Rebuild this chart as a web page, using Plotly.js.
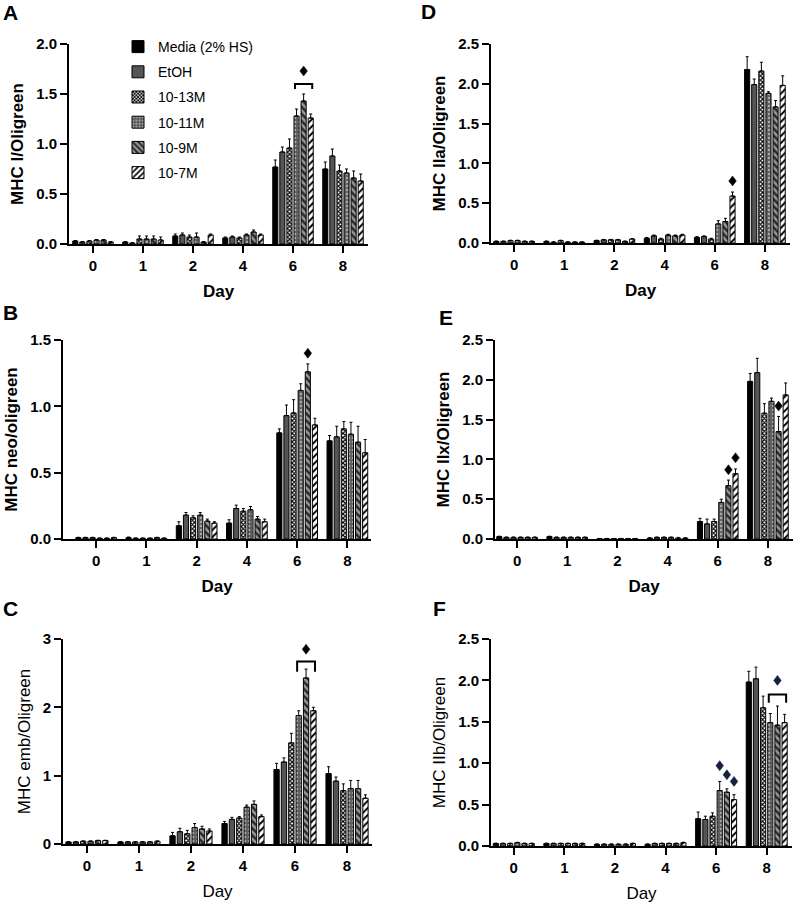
<!DOCTYPE html>
<html>
<head>
<meta charset="utf-8">
<script src="https://cdn.plot.ly/plotly-3.0.1.min.js"></script>
<style>
  body { margin: 0; background: #fff; }
  #chart { width: 796px; height: 903px; }
</style>
</head>
<body>
<div id="chart"></div>
<script>
// days on the x axis
var days = ['0', '1', '2', '4', '6', '8'];
var groups = ['Media (2% HS)', 'EtOH', '10-13M', '10-11M', '10-9M', '10-7M'];

// rows = groups (same order as above), columns = days
var mhcIMean = [
  [0.03, 0.02, 0.08, 0.06, 0.77, 0.75],
  [0.02, 0.01, 0.09, 0.07, 0.92, 0.88],
  [0.03, 0.05, 0.07, 0.06, 0.96, 0.73],
  [0.04, 0.05, 0.07, 0.09, 1.28, 0.71],
  [0.04, 0.05, 0.02, 0.12, 1.43, 0.66],
  [0.02, 0.04, 0.09, 0.09, 1.26, 0.63]
];
var mhcIErr = [
  [0.005, 0.005, 0.02, 0.01, 0.07, 0.07],
  [0.005, 0.005, 0.02, 0.01, 0.05, 0.07],
  [0.005, 0.03, 0.02, 0.01, 0.09, 0.06],
  [0.005, 0.03, 0.04, 0.01, 0.07, 0.04],
  [0.005, 0.03, 0.005, 0.02, 0.07, 0.07],
  [0.005, 0.03, 0.01, 0.01, 0.04, 0.07]
];

var mhcNeoMean = [
  [0.01, 0.01, 0.10, 0.12, 0.80, 0.74],
  [0.01, 0.005, 0.18, 0.23, 0.93, 0.77],
  [0.01, 0.005, 0.16, 0.21, 0.95, 0.83],
  [0.005, 0.005, 0.18, 0.22, 1.12, 0.79],
  [0.005, 0.01, 0.135, 0.15, 1.26, 0.73],
  [0.01, 0.005, 0.12, 0.13, 0.86, 0.65]
];
var mhcNeoErr = [
  [0.003, 0.005, 0.03, 0.025, 0.03, 0.04],
  [0.003, 0.003, 0.02, 0.025, 0.08, 0.08],
  [0.003, 0.003, 0.015, 0.02, 0.10, 0.055],
  [0.003, 0.003, 0.02, 0.025, 0.05, 0.09],
  [0.003, 0.003, 0.015, 0.02, 0.06, 0.12],
  [0.003, 0.003, 0.01, 0.02, 0.05, 0.10]
];

var mhcEmbMean = [
  [0.03, 0.03, 0.12, 0.30, 1.09, 1.03],
  [0.03, 0.03, 0.18, 0.36, 1.20, 0.92],
  [0.04, 0.03, 0.15, 0.38, 1.48, 0.78],
  [0.04, 0.03, 0.24, 0.54, 1.88, 0.81],
  [0.05, 0.03, 0.22, 0.58, 2.43, 0.81],
  [0.05, 0.04, 0.19, 0.40, 1.95, 0.67]
];
var mhcEmbErr = [
  [0.005, 0.005, 0.05, 0.03, 0.09, 0.10],
  [0.005, 0.005, 0.05, 0.03, 0.06, 0.06],
  [0.005, 0.005, 0.05, 0.02, 0.14, 0.10],
  [0.005, 0.005, 0.06, 0.03, 0.07, 0.12],
  [0.005, 0.005, 0.04, 0.05, 0.13, 0.12],
  [0.005, 0.005, 0.03, 0.025, 0.05, 0.05]
];

var mhcIIaMean = [
  [0.02, 0.02, 0.03, 0.06, 0.07, 2.18],
  [0.02, 0.01, 0.04, 0.09, 0.08, 1.99],
  [0.03, 0.03, 0.04, 0.05, 0.05, 2.16],
  [0.03, 0.01, 0.04, 0.10, 0.24, 1.88],
  [0.02, 0.01, 0.02, 0.09, 0.27, 1.71],
  [0.02, 0.01, 0.05, 0.10, 0.59, 1.98]
];
var mhcIIaErr = [
  [0.005, 0.005, 0.005, 0.01, 0.01, 0.16],
  [0.005, 0.005, 0.005, 0.01, 0.01, 0.07],
  [0.005, 0.005, 0.005, 0.01, 0.01, 0.11],
  [0.005, 0.005, 0.005, 0.01, 0.04, 0.02],
  [0.005, 0.005, 0.005, 0.01, 0.04, 0.08],
  [0.005, 0.005, 0.005, 0.01, 0.05, 0.12]
];

var mhcIIxMean = [
  [0.03, 0.03, 0.005, 0.01, 0.22, 1.98],
  [0.02, 0.02, 0.005, 0.02, 0.19, 2.09],
  [0.02, 0.02, 0.005, 0.02, 0.22, 1.58],
  [0.02, 0.02, 0.005, 0.02, 0.46, 1.73],
  [0.02, 0.02, 0.005, 0.01, 0.67, 1.35],
  [0.02, 0.02, 0.005, 0.01, 0.82, 1.81]
];
var mhcIIxErr = [
  [0.005, 0.005, 0.002, 0.005, 0.04, 0.10],
  [0.005, 0.005, 0.002, 0.005, 0.06, 0.18],
  [0.005, 0.005, 0.002, 0.005, 0.03, 0.12],
  [0.005, 0.005, 0.002, 0.005, 0.04, 0.04],
  [0.005, 0.005, 0.002, 0.01, 0.07, 0.19],
  [0.005, 0.005, 0.002, 0.005, 0.06, 0.15]
];

var mhcIIbMean = [
  [0.03, 0.03, 0.02, 0.02, 0.33, 1.98],
  [0.03, 0.03, 0.02, 0.03, 0.32, 2.02],
  [0.03, 0.03, 0.02, 0.03, 0.36, 1.67],
  [0.04, 0.03, 0.02, 0.03, 0.67, 1.49],
  [0.03, 0.03, 0.02, 0.03, 0.65, 1.46],
  [0.03, 0.03, 0.03, 0.04, 0.56, 1.49]
];
var mhcIIbErr = [
  [0.005, 0.005, 0.005, 0.005, 0.08, 0.13],
  [0.005, 0.005, 0.005, 0.005, 0.04, 0.14],
  [0.005, 0.005, 0.005, 0.005, 0.04, 0.14],
  [0.005, 0.005, 0.005, 0.005, 0.11, 0.11],
  [0.005, 0.005, 0.005, 0.005, 0.04, 0.23],
  [0.005, 0.005, 0.005, 0.005, 0.06, 0.10]
];

// significance marks: [dayIndex, groupIndex, y]
var diamondsA = [[4, 4, 1.73]];
var diamondsB = [[4, 4, 1.40]];
var diamondsC = [[4, 4, 2.85]];
var diamondsD = [[4, 5, 0.78]];
var diamondsE = [[4, 4, 0.87], [4, 5, 1.02], [5, 4, 1.67]];
var diamondsF = [[4, 3, 0.97], [4, 4, 0.86], [4, 5, 0.78], [5, 4, 2.00]];
// brackets: [dayIndex, fromGroup, toGroup, y, tipY]
var bracketsA = [[4, 3, 5, 1.60, 1.55]];
var bracketsC = [[4, 3, 5, 2.67, 2.52]];
var bracketsF = [[5, 3, 5, 1.83, 1.73]];

var FONT = 'Liberation Sans, Arial, Helvetica, sans-serif';
var BARGAP = 0.15;

var fills = [
  { color: '#000000' },
  { color: '#555555' },
  { color: '#ffffff', pattern: { shape: 'x', fgcolor: '#000', bgcolor: '#fff', size: 3, solidity: 0.6 } },
  { color: '#5e5e5e', pattern: { shape: '.', fgcolor: '#a8a8a8', bgcolor: '#5e5e5e', size: 4, solidity: 0.3 } },
  { color: '#888888', pattern: { shape: '\\', fgcolor: '#2a2a2a', bgcolor: '#9a9a9a', size: 5, solidity: 0.5 } },
  { color: '#ffffff', pattern: { shape: '/', fgcolor: '#000', bgcolor: '#fff', size: 5, solidity: 0.4 } }
];

var panels = [
  { letter: 'A', mean: mhcIMean, err: mhcIErr, ytitle: 'MHC I/Oligreen', yr: [0, 2], dt: 0.5, fmt: '.1f',
    dom: [69, 368, 44, 244], xr: [-0.48, 5.5], lp: [10, 13], dia: diamondsA, br: bracketsA, bold: true, dcol: '#000' },
  { letter: 'B', mean: mhcNeoMean, err: mhcNeoErr, ytitle: 'MHC neo/oligreen', yr: [0, 1.5], dt: 0.5, fmt: '.1f',
    dom: [63, 371, 340, 539], xr: [-0.66, 5.47], lp: [10, 312], dia: diamondsB, br: [], bold: true, dcol: '#000' },
  { letter: 'C', mean: mhcEmbMean, err: mhcEmbErr, ytitle: 'MHC emb/Oligreen', yr: [0, 3], dt: 1, fmt: 'd',
    dom: [63, 372, 639, 844], xr: [-0.46, 5.48], lp: [10, 608], dia: diamondsC, br: bracketsC, bold: false, dcol: '#000' },
  { letter: 'D', mean: mhcIIaMean, err: mhcIIaErr, ytitle: 'MHC IIa/Oligreen', yr: [0, 2.5], dt: 0.5, fmt: '.1f',
    dom: [491, 790, 44, 243], xr: [-0.46, 5.5], lp: [428, 11], dia: diamondsD, br: [], bold: true, dcol: '#000' },
  { letter: 'E', mean: mhcIIxMean, err: mhcIIxErr, ytitle: 'MHC IIx/Oligreen', yr: [0, 2.5], dt: 0.5, fmt: '.1f',
    dom: [495, 793, 340, 539], xr: [-0.44, 5.5], lp: [446, 317], dia: diamondsE, br: [], bold: true, dcol: '#000' },
  { letter: 'F', mean: mhcIIbMean, err: mhcIIbErr, ytitle: 'MHC IIb/Oligreen', yr: [0, 2.5], dt: 0.5, fmt: '.1f',
    dom: [491, 792, 639, 846], xr: [-0.45, 5.5], lp: [439, 608], dia: diamondsF, br: bracketsF, bold: false, dcol: '#14213d' }
];

var W = 796, H = 903;

// centre of a bar inside its day group, in category units
function barX(day, g) {
  var slot = (1 - BARGAP) / groups.length;
  return day - (1 - BARGAP) / 2 + slot * (g + 0.5);
}

var data = [];
var layout = {
  width: W, height: H,
  margin: { l: 0, r: 0, t: 0, b: 0 },
  paper_bgcolor: '#fff', plot_bgcolor: '#fff',
  barmode: 'group', bargap: BARGAP, bargroupgap: 0.28,
  font: { family: FONT, color: '#000' },
  showlegend: true,
  legend: {
    x: 118 / W, y: 1 - 31 / H, xanchor: 'left', yanchor: 'top',
    font: { family: FONT, size: 14, color: '#000' },
    bgcolor: 'rgba(0,0,0,0)', tracegroupgap: 4
  },
  annotations: [],
  shapes: []
};

panels.forEach(function (p, k) {
  var n = k === 0 ? '' : String(k + 1);
  var xa = 'x' + n, ya = 'y' + n;
  groups.forEach(function (name, g) {
    var f = fills[g];
    var marker = { color: f.color, line: { color: '#000', width: 1 } };
    if (f.pattern) marker.pattern = f.pattern;
    data.push({
      type: 'bar', name: name, x: days, y: p.mean[g],
      xaxis: xa, yaxis: ya, marker: marker,
      legendgroup: name, showlegend: k === 0,
      error_y: { type: 'data', symmetric: false, array: p.err[g],
                 arrayminus: p.err[g].map(function () { return 0; }),
                 color: '#000', thickness: 1, width: 1.5 }
    });
  });

  var tf = { family: FONT, size: 17, color: '#000', weight: p.bold ? 'bold' : 'normal' };
  layout['xaxis' + n] = {
    domain: [p.dom[0] / W, p.dom[1] / W], anchor: ya, type: 'category',
    range: p.xr, showline: true, linecolor: '#000', linewidth: 2,
    ticks: 'outside', ticklen: 7, tickwidth: 2, tickcolor: '#000',
    showgrid: false, zeroline: false, fixedrange: true,
    tickfont: { family: FONT, size: 15, color: '#000', weight: 'bold' },
    title: { text: 'Day', font: tf, standoff: 12 }
  };
  layout['yaxis' + n] = {
    domain: [1 - p.dom[3] / H, 1 - p.dom[2] / H], anchor: xa,
    range: p.yr, dtick: p.dt, tick0: 0, tickformat: p.fmt,
    showline: true, linecolor: '#000', linewidth: 2,
    ticks: 'outside', ticklen: 7, tickwidth: 2, tickcolor: '#000',
    showgrid: false, zeroline: false, fixedrange: true,
    tickfont: { family: FONT, size: 15, color: '#000', weight: 'bold' },
    title: { text: p.ytitle, font: tf, standoff: 8 }
  };

  layout.annotations.push({
    xref: 'paper', yref: 'paper', x: p.lp[0] / W, y: 1 - p.lp[1] / H,
    xanchor: 'center', yanchor: 'middle', showarrow: false, text: p.letter,
    font: { family: FONT, size: 21, color: '#000', weight: 'bold' }
  });

  // diamond marks drawn as small pixel-sized shapes anchored to the data
  p.dia.forEach(function (d) {
    layout.shapes.push({
      type: 'path', xref: xa, yref: ya,
      xsizemode: 'pixel', ysizemode: 'pixel',
      xanchor: barX(d[0], d[1]), yanchor: d[2],
      path: 'M0,5 L3.8,0 L0,-5 L-3.8,0 Z',
      fillcolor: p.dcol, line: { color: p.dcol, width: 0.5 }
    });
  });

  p.br.forEach(function (b) {
    var x0 = barX(b[0], b[1]) - 0.03, x1 = barX(b[0], b[2]) + 0.03;
    layout.shapes.push({
      type: 'path', xref: xa, yref: ya,
      path: 'M' + x0 + ',' + b[4] + ' L' + x0 + ',' + b[3] + ' L' + x1 + ',' + b[3] + ' L' + x1 + ',' + b[4],
      line: { color: '#000', width: 2 }
    });
  });
});

Plotly.newPlot('chart', data, layout, { staticPlot: true });
</script>
</body>
</html>
